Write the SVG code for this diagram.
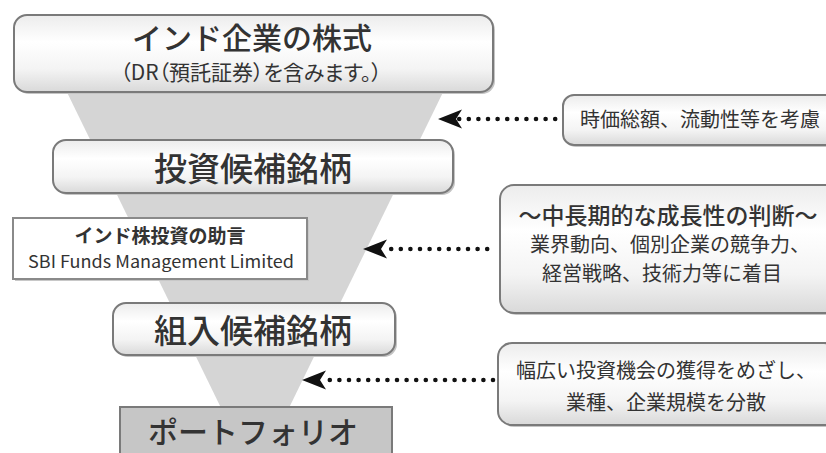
<svg xmlns="http://www.w3.org/2000/svg" width="826" height="453" viewBox="0 0 826 453">
<defs>
<linearGradient id="g" x1="0" y1="0" x2="0" y2="1">
<stop offset="0" stop-color="#ececec"/>
<stop offset="0.35" stop-color="#ffffff"/>
<stop offset="0.7" stop-color="#f4f4f4"/>
<stop offset="1" stop-color="#d9d9d9"/>
</linearGradient>
<style>
.box{fill:url(#g);stroke:#7a7a7a;stroke-width:2}
.sh{fill:#c4c4c4}
.t{font-family:"Noto Sans CJK JP","Noto Sans",sans-serif;fill:#333;text-anchor:middle}
.p{font-feature-settings:"palt"}
.dots{stroke:#111;stroke-width:4.6;stroke-linecap:round;stroke-dasharray:0 9.6;fill:none}
.head{fill:#111}
</style>
</defs>
<rect width="826" height="453" fill="#fff"/>
<polygon id="funnel" points="61,80 449,80 287,412 223,412" fill="#d5d5d5"/>

<g id="n1">
<rect class="sh" x="16" y="17" width="479" height="77" rx="13"/>
<rect class="box" x="14" y="15" width="479" height="77" rx="13"/>
<text class="t" x="252" y="49" font-size="30" font-weight="500">インド企業の株式</text>
<text class="t p" x="251" y="80" font-size="21">（DR（預託証券）を含みます。）</text>
</g>

<g id="n2">
<rect class="sh" x="55" y="142" width="400" height="53" rx="13"/>
<rect class="box" x="53" y="140" width="400" height="53" rx="13"/>
<text class="t" x="253" y="181" font-size="33" font-weight="500">投資候補銘柄</text>
</g>

<g id="n3">
<rect x="15" y="220" width="294" height="61" fill="#c8c8c8"/>
<rect x="13" y="218" width="294" height="61" fill="#fff" stroke="#8a8a8a" stroke-width="2"/>
<text class="t" x="160" y="243" font-size="19" font-weight="bold">インド株投資の助言</text>
<text class="t" x="161" y="268" font-size="17" textLength="266" lengthAdjust="spacingAndGlyphs">SBI Funds Management Limited</text>
</g>

<g id="n4">
<rect class="sh" x="115" y="305" width="282" height="52" rx="13"/>
<rect class="box" x="113" y="303" width="282" height="52" rx="13"/>
<text class="t" x="253" y="343" font-size="33" font-weight="500">組入候補銘柄</text>
</g>

<g id="n5">
<rect x="120" y="407" width="272" height="60" fill="#c6c6c6" stroke="#7a7a7a" stroke-width="2"/>
<text class="t" x="253" y="443" font-size="30" font-weight="500">ポートフォリオ</text>
</g>

<g id="r1">
<rect class="sh" x="565" y="97" width="280" height="50" rx="11"/>
<rect class="box" x="563" y="95" width="280" height="50" rx="11"/>
<text class="t" x="700" y="127" font-size="20">時価総額、流動性等を考慮</text>
</g>

<g id="r2">
<rect class="sh" x="502" y="187" width="340" height="128" rx="14"/>
<rect class="box" x="500" y="185" width="340" height="128" rx="14"/>
<text class="t" x="668" y="224" font-size="23" font-weight="500">〜中長期的な成長性の判断〜</text>
<text class="t" x="670" y="252" font-size="20">業界動向、個別企業の競争力、</text>
<text class="t" x="662" y="281" font-size="20">経営戦略、技術力等に着目</text>
</g>

<g id="r3">
<rect class="sh" x="500" y="345" width="340" height="82" rx="14"/>
<rect class="box" x="498" y="343" width="340" height="82" rx="14"/>
<text class="t" x="666" y="378" font-size="20">幅広い投資機会の獲得をめざし、</text>
<text class="t" x="666" y="410" font-size="20">業種、企業規模を分散</text>
</g>

<g id="connectors">
<line class="dots" x1="555.2" y1="119" x2="459" y2="119"/>
<path class="head" d="M438,119 L462,109.5 L456,119 L462,128.5 Z"/>
<line class="dots" x1="487.2" y1="249" x2="383" y2="249"/>
<path class="head" d="M363,249 L387,239.5 L381,249 L387,258.5 Z"/>
<line class="dots" x1="493" y1="380" x2="322" y2="380"/>
<path class="head" d="M302,380 L326,370.5 L320,380 L326,389.5 Z"/>
</g>
</svg>
